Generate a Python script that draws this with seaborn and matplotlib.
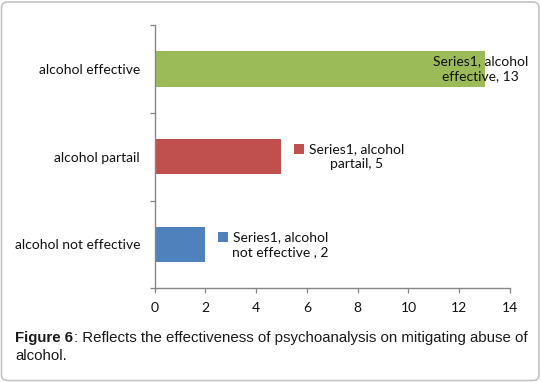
import matplotlib
matplotlib.use('Agg')
import matplotlib.pyplot as plt
import seaborn as sns
import pandas as pd
from matplotlib.patches import FancyBboxPatch
from matplotlib.transforms import IdentityTransform, offset_copy

# ---- data ----
categories = ["alcohol effective", "alcohol partail", "alcohol not effective"]
values = [13, 5, 2]
colors = ["#9BBB59", "#C0504D", "#4F81BD"]
label_texts = ["Series1, alcohol\neffective, 13",
               "Series1, alcohol\npartail, 5",
               "Series1, alcohol\nnot effective , 2"]
xticks = [0, 2, 4, 6, 8, 10, 12, 14]
caption_bold = "Figure 6"
caption_line1 = ": Reflects the effectiveness of psychoanalysis on mitigating abuse of"
caption_line2 = "alcohol."

sns.set_theme(style="white")
plt.rcParams['font.family'] = ['Lato', 'DejaVu Sans']

W, H = 541, 382
fig = plt.figure(figsize=(W / 100, H / 100), dpi=100)
fig.patch.set_facecolor('white')

ax_l, ax_r, ax_t, ax_b = 154.5, 510.0, 25.0, 288.3
ax = fig.add_axes([ax_l / W, 1 - ax_b / H, (ax_r - ax_l) / W, (ax_b - ax_t) / H])

df = pd.DataFrame({"category": categories, "value": values})
sns.barplot(data=df, x="value", y="category", hue="category", palette=colors,
            width=0.405, saturation=1, legend=False, ax=ax, linewidth=0)

axis_gray = "#868686"
txt_col = "#111111"
fs = 10.0
ax.set_xlim(xticks[0], xticks[-1])
ax.set_ylim(len(categories) - 0.5, -0.5)
ax.set_xlabel("")
ax.set_ylabel("")
for s in ["top", "right"]:
    ax.spines[s].set_visible(False)
for s in ["left", "bottom"]:
    ax.spines[s].set_color(axis_gray)
    ax.spines[s].set_linewidth(1.0)

ax.set_xticks(xticks)
ax.set_xticklabels([str(t) for t in xticks])
ax.tick_params(axis="x", which="major", direction="out", length=3.8, width=0.9,
               color=axis_gray, labelsize=fs, labelcolor=txt_col, pad=6.0, bottom=True)

ax.set_yticks(range(len(categories)))
ax.set_yticklabels(categories)
ax.set_yticks([i - 0.5 for i in range(len(categories) + 1)], minor=True)
ax.tick_params(axis="y", which="major", length=0, labelsize=fs, labelcolor=txt_col, pad=10.4)
ax.tick_params(axis="y", which="minor", direction="out", length=3.8, width=0.9,
               color=axis_gray, left=True)

# ---- data labels ----
xmax = xticks[-1]
for i, (v, t, c) in enumerate(zip(values, label_texts, colors)):
    if v > 0.8 * xmax:
        ax.annotate(t, xy=(v, i), xytext=(-4, 0), textcoords="offset pixels",
                    ha="center", va="center", fontsize=fs, color=txt_col,
                    linespacing=1.25)
    else:
        ax.annotate(t, xy=(v, i), xytext=(75, 0), textcoords="offset pixels",
                    ha="center", va="center", fontsize=fs, color=txt_col,
                    linespacing=1.25)
        tr = offset_copy(ax.transData, fig=fig, x=17.5, y=7.5, units="dots")
        ax.plot([v], [i], marker="s", markersize=7.2, color=c, transform=tr,
                linestyle="none", clip_on=False, markeredgewidth=0)

# ---- caption ----
cfs = 10.8
cap_x = 15.5 / W
t1 = fig.text(cap_x, 1 - 337.7 / H, caption_bold, fontsize=cfs, fontweight="bold",
              family=["Liberation Sans", "DejaVu Sans"], color="#1a1a1a",
              ha="left", va="center")
fig.canvas.draw()
ann = plt.annotate(caption_line1, xy=(1, 0.5), xycoords=t1, ha="left", va="center",
                   fontsize=cfs, family=["Liberation Sans", "DejaVu Sans"],
                   color="#1a1a1a", annotation_clip=False)
fig.text(cap_x, 1 - 356.0 / H, caption_line2, fontsize=cfs,
         family=["Liberation Sans", "DejaVu Sans"], color="#1a1a1a",
         ha="left", va="center")

# ---- outer rounded frame ----
frame = FancyBboxPatch((1.5, 1.5), W - 3.5, H - 3.5,
                       boxstyle="round,pad=0,rounding_size=6",
                       transform=IdentityTransform(), fill=False,
                       edgecolor="#c4c4c4", linewidth=1.2)
fig.add_artist(frame)

fig.savefig("out.png", dpi=100, facecolor="white")
